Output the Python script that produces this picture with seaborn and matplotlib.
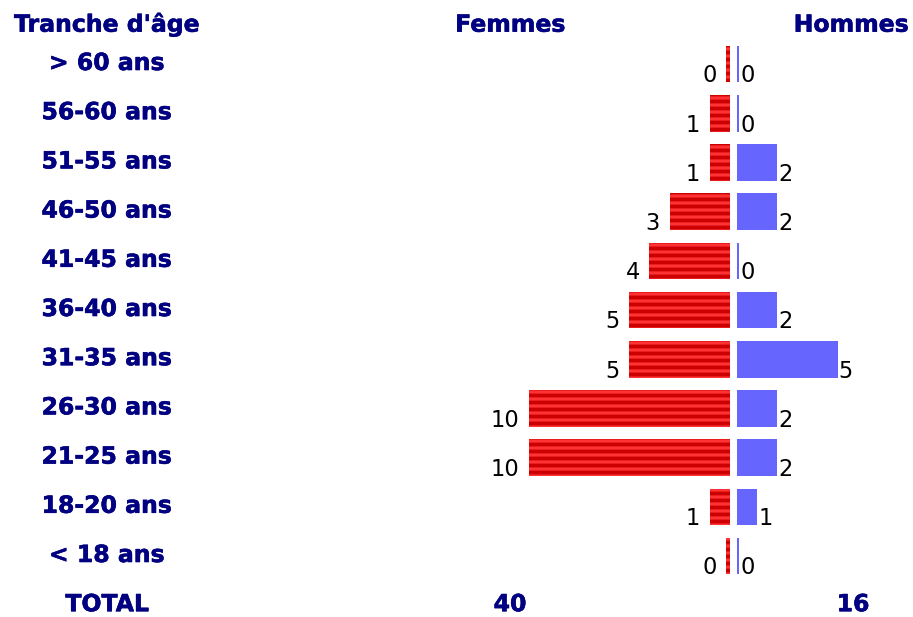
import numpy as np
import pandas as pd
import matplotlib
matplotlib.use('Agg')
import matplotlib.pyplot as plt
import matplotlib.transforms as mtransforms
import matplotlib.patheffects as pe
import seaborn as sns

# ---------------- data ----------------
categories = ['> 60 ans', '56-60 ans', '51-55 ans', '46-50 ans', '41-45 ans',
              '36-40 ans', '31-35 ans', '26-30 ans', '21-25 ans', '18-20 ans',
              '< 18 ans']
femmes = [0, 1, 1, 3, 4, 5, 5, 10, 10, 1, 0]
hommes = [0, 0, 2, 2, 0, 2, 5, 2, 2, 1, 0]
header_labels = ["Tranche d'âge", 'Femmes', 'Hommes']
total_label = 'TOTAL'

# ---------------- style ----------------
DPI = 84
W, H = 913, 617
sns.set_style('white')
plt.rcParams['font.family'] = ['DejaVu Sans']
plt.rcParams['hatch.linewidth'] = 3.3

NAVY = '#000080'
RED_LIGHT = '#FF3333'
RED_DARK = '#CC0000'
BLUE = '#6666FF'
LABEL_PT = 20.2
VALUE_PT = 19.3
bold_fx = [pe.withStroke(linewidth=0.5, foreground=NAVY)]

fig = plt.figure(figsize=(W / DPI, H / DPI), dpi=DPI)

PX_PER_UNIT = 20.15
ax_top, ax_bot = 39.5, 580.7


def rect(x0, x1):
    return [x0 / W, 1 - ax_bot / H, (x1 - x0) / W, (ax_bot - ax_top) / H]


axL = fig.add_axes(rect(330, 730))
axR = fig.add_axes(rect(737, W))

df = pd.DataFrame({'cat': categories, 'f': femmes, 'h': hommes})
# zero values are still shown as a thin sliver
df['f_disp'] = df['f'].clip(lower=0.18)
df['h_disp'] = df['h'].clip(lower=0.1)

sns.barplot(data=df, x='f_disp', y='cat', order=categories, orient='h', ax=axL,
            color=RED_LIGHT, saturation=1, width=0.746, errorbar=None,
            hatch='--', edgecolor=RED_DARK, linewidth=0)
sns.barplot(data=df, x='h_disp', y='cat', order=categories, orient='h', ax=axR,
            color=BLUE, saturation=1, width=0.746, errorbar=None,
            edgecolor=BLUE, linewidth=0)

axL.set_xlim(400 / PX_PER_UNIT, 0)
axR.set_xlim(0, 176 / PX_PER_UNIT)
for ax in (axL, axR):
    ax.set_ylim(len(categories) - 0.5, -0.5)
    ax.axis('off')

# value labels
trL = mtransforms.offset_copy(axL.transData, fig=fig, x=-9.5, y=0, units='dots')
trR = mtransforms.offset_copy(axR.transData, fig=fig, x=1, y=0, units='dots')
half = 0.746 / 2
for i, row in df.iterrows():
    axL.text(row['f_disp'], i + half, f"{int(row['f'])}", transform=trL,
             ha='right', va='baseline', fontsize=VALUE_PT, color='black', clip_on=False)
    axR.text(row['h_disp'], i + half, f"{int(row['h'])}", transform=trR,
             ha='left', va='baseline', fontsize=VALUE_PT, color='black', clip_on=False)

# category labels
blend = mtransforms.blended_transform_factory(fig.transFigure, axL.transData)
for i, c in enumerate(categories):
    fig.text(106.5 / W, i + 0.12, c, transform=blend, ha='center', va='baseline',
             fontsize=LABEL_PT, fontweight='bold', color=NAVY, path_effects=bold_fx)

# total row
ti = len(categories)
fig.text(107 / W, ti + 0.12, total_label, transform=blend, ha='center', va='baseline',
         fontsize=LABEL_PT, fontweight='bold', color=NAVY, path_effects=bold_fx)
fig.text(510 / W, ti + 0.12, str(sum(femmes)), transform=blend, ha='center',
         va='baseline', fontsize=LABEL_PT, fontweight='bold', color=NAVY,
         path_effects=bold_fx)
fig.text(853 / W, ti + 0.12, str(sum(hommes)), transform=blend, ha='center',
         va='baseline', fontsize=LABEL_PT, fontweight='bold', color=NAVY,
         path_effects=bold_fx)

# headers
for x, lab in zip([106.5, 510, 851], header_labels):
    fig.text(x / W, 1 - 31.7 / H, lab, ha='center', va='baseline',
             fontsize=LABEL_PT, fontweight='bold', color=NAVY, path_effects=bold_fx)

fig.savefig('out.png', dpi=DPI)
